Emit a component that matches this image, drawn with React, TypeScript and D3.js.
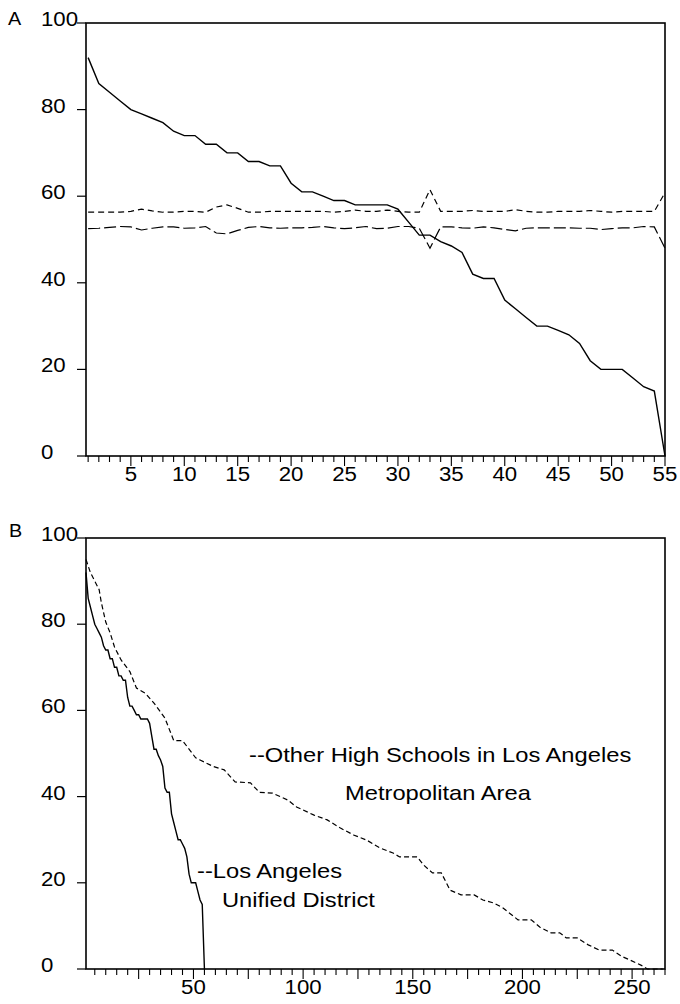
import React from 'react';
import * as d3 from 'd3';

// Panel A: 55 LAUSD high schools ranked (solid) and two comparison series (dashed)
const lausdPct = [92, 86, 84, 82, 80, 79, 78, 77, 75, 74, 74, 72, 72, 70, 70, 68, 68, 67, 67, 63,
  61, 61, 60, 59, 59, 58, 58, 58, 58, 57, 54, 51, 51, 49.5, 48.5, 47, 42, 41, 41, 36,
  34, 32, 30, 30, 29, 28, 26, 22, 20, 20, 20, 18, 16, 15, 0];
const upperDashA = [56.3, 56.3, 56.3, 56.3, 56.5, 57, 56.6, 56.3, 56.3, 56.5,
  56.5, 56.3, 57.5, 58, 57.2, 56.3, 56.3, 56.5, 56.5, 56.5,
  56.5, 56.5, 56.5, 56.3, 56.5, 56.8, 56.5, 56.5, 56.8, 56.5,
  56.3, 56.3, 61.5, 56.5, 56.5, 56.5, 56.7, 56.5, 56.5, 56.5,
  56.9, 56.5, 56.3, 56.3, 56.5, 56.5, 56.5, 56.7, 56.5, 56.3,
  56.5, 56.5, 56.5, 56.5, 60.8];
const lowerDashA = [52.5, 52.6, 52.8, 53, 52.9, 52.2, 52.6, 52.9, 52.9, 52.6,
  52.7, 53, 51.5, 51.3, 52.1, 52.8, 53, 52.7, 52.6, 52.7,
  52.7, 52.8, 53, 52.7, 52.5, 52.7, 53, 52.5, 52.6, 53,
  53, 52.6, 48, 52.9, 52.9, 52.7, 52.6, 52.9, 52.7, 52.3,
  52, 52.6, 52.7, 52.7, 52.7, 52.7, 52.6, 52.6, 52.3, 52.5,
  52.7, 52.7, 53, 52.9, 48];

// Panel B: other high schools in the LA metro area (rank, percent) read at the corners
const otherRank = [1, 3, 7, 8, 10, 12, 14, 17, 21, 24, 28, 32, 37, 41, 45, 51, 53, 59, 64, 69,
  76, 80, 86, 93, 97, 105, 111, 117, 123, 129, 135, 141, 144, 152, 155, 159, 163, 167, 172, 178,
  182, 187, 191, 198, 204, 208, 213, 217, 220, 225, 230, 235, 241, 245, 249, 254, 257, 264];
const otherPct = [95, 92, 88, 85, 80.5, 78, 74.7, 71.7, 69, 65.2, 64, 61.7, 58.2, 53, 53, 49, 48.5, 47, 46.2, 43.4,
  43.2, 41, 40.8, 39.2, 37.6, 35.7, 34.6, 32.7, 31.1, 29.9, 28.1, 26.9, 26, 26, 24.1, 22.3, 22.3, 18.3, 17.2, 17.2,
  16, 15.3, 14.2, 11.4, 11.4, 9.7, 8.4, 8.4, 7.2, 7.2, 5.6, 4.4, 4.4, 3, 2.1, 0.9, 0, 0];

const yTicks = [0, 20, 40, 60, 80, 100];
const xLabelsA = [5, 10, 15, 20, 25, 30, 35, 40, 45, 50, 55];
const xLabelsB = [50, 100, 150, 200, 250];

const FONT = '"Liberation Sans", Arial, Helvetica, sans-serif';

export default function App() {
  const left = 86, right = 665;
  const A = { top: 23, bottom: 456 };
  const B = { top: 538, bottom: 969 };
  const xA = d3.scaleLinear().domain([0.8, 55]).range([left, right]);
  const yA = d3.scaleLinear().domain([0, 100]).range([A.bottom, A.top]);
  const xB = d3.scaleLinear().domain([1, 265]).range([left, right]);
  const yB = d3.scaleLinear().domain([0, 100]).range([B.bottom, B.top]);

  const lineA = d3.line<number>().x((_, i) => xA(i + 1)).y(d => yA(d));
  const lineBsolid = d3.line<number>().x((_, i) => xB(i + 1)).y(d => yB(d));
  const lineBother = d3.line<number>().x((_, i) => xB(otherRank[i])).y(d => yB(d));

  const minorA = d3.range(1, 56);
  const minorB = d3.range(5, 266, 5);

  const yAxis = (y: d3.ScaleLinear<number, number>) => (
    <g>
      {yTicks.map(t => (
        <g key={t}>
          <line x1={left - 9} x2={left} y1={y(t)} y2={y(t)} stroke="#000" strokeWidth={1.2} />
          <text transform={`translate(41,${y(t) + 3}) scale(1.06,1)`} fontSize={21} fontFamily={FONT}>{t}</text>
        </g>
      ))}
    </g>
  );

  return (
    <svg width={680} height={1004} style={{ position: 'absolute', left: 0, top: 0, background: '#fff' }}>
      {/* Panel A */}
      <text transform="translate(8,25) scale(1.1,1)" fontSize={18} fontFamily={FONT}>A</text>
      <rect x={left} y={A.top} width={right - left} height={A.bottom - A.top} fill="none" stroke="#000" strokeWidth={1.6} />
      {yAxis(yA)}
      {minorA.map(t => (
        <line key={t} x1={xA(t)} x2={xA(t)} y1={A.bottom} y2={A.bottom + (t % 5 === 0 ? 10 : 6)} stroke="#000" strokeWidth={1.1} />
      ))}
      {xLabelsA.map(t => (
        <text key={t} transform={`translate(${xA(t)},${A.bottom + 25}) scale(1.06,1)`} fontSize={21} fontFamily={FONT} textAnchor="middle">{t}</text>
      ))}
      <path d={lineA(upperDashA) || ''} fill="none" stroke="#000" strokeWidth={1.2} strokeDasharray="6,4" />
      <path d={lineA(lowerDashA) || ''} fill="none" stroke="#000" strokeWidth={1.2} strokeDasharray="12,4" />
      <path d={lineA(lausdPct) || ''} fill="none" stroke="#000" strokeWidth={1.4} />

      {/* Panel B */}
      <text transform="translate(9,537) scale(1.1,1)" fontSize={18} fontFamily={FONT}>B</text>
      <rect x={left} y={B.top} width={right - left} height={B.bottom - B.top} fill="none" stroke="#000" strokeWidth={1.6} />
      {yAxis(yB)}
      {minorB.map(t => (
        <line key={t} x1={xB(t)} x2={xB(t)} y1={B.bottom} y2={B.bottom + (t % 25 === 0 ? 10 : 6)} stroke="#000" strokeWidth={1.1} />
      ))}
      {xLabelsB.map(t => (
        <text key={t} transform={`translate(${xB(t)},${B.bottom + 25}) scale(1.06,1)`} fontSize={21} fontFamily={FONT} textAnchor="middle">{t}</text>
      ))}
      <path d={lineBother(otherPct) || ''} fill="none" stroke="#000" strokeWidth={1.2} strokeDasharray="5,3" />
      <path d={lineBsolid(lausdPct) || ''} fill="none" stroke="#000" strokeWidth={1.4} />

      <g fontSize={21} fontFamily={FONT}>
        <text transform="translate(249,762) scale(1.13,1)">--Other High Schools in Los Angeles</text>
        <text transform="translate(345,800) scale(1.13,1)">Metropolitan Area</text>
        <text transform="translate(197,878) scale(1.13,1)">--Los Angeles</text>
        <text transform="translate(222,907) scale(1.13,1)">Unified District</text>
      </g>
    </svg>
  );
}
